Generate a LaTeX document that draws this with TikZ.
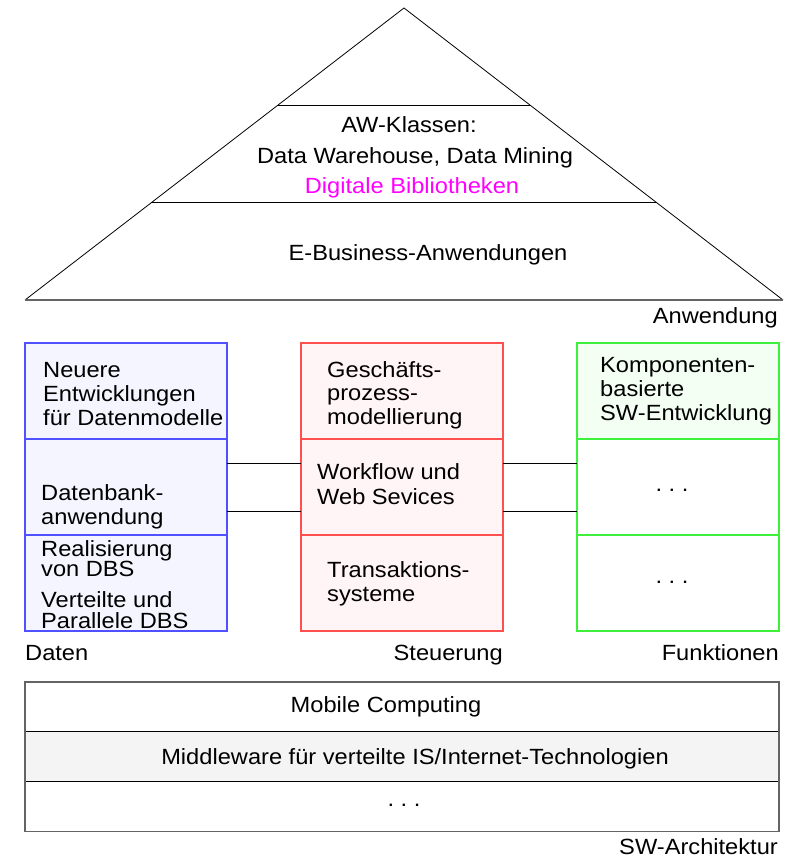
\documentclass[tikz,border=0pt]{standalone}
\usepackage{fontspec}
\setmainfont{Liberation Sans}[FakeStretch=1.075]
\usetikzlibrary{positioning,calc}
\definecolor{datenblau}{RGB}{80,80,255}
\definecolor{datenfill}{RGB}{245,245,255}
\definecolor{steuerrot}{RGB}{255,80,80}
\definecolor{steuerfill}{RGB}{255,244,246}
\definecolor{funktgruen}{RGB}{60,240,60}
\definecolor{funktfill}{RGB}{244,255,244}
\definecolor{archgrau}{RGB}{100,100,100}
\definecolor{archfill}{RGB}{244,244,244}
\definecolor{biblio}{RGB}{255,0,255}
\tikzset{
	ln/.style={font=\fontsize{22}{24}\selectfont, inner sep=0pt, anchor=base west},
	lnc/.style={ln, anchor=base},
	lnr/.style={ln, anchor=base east},
	feld/.style={line width=1.3pt, minimum width=202pt, minimum height=96pt, anchor=north west, inner sep=0pt, outer sep=0pt},
	schicht/.style={line width=1pt, minimum width=754pt, minimum height=49.7pt, anchor=north west, inner sep=0pt, outer sep=0pt}
}
\begin{document}
\begin{tikzpicture}[x=1pt,y=-1pt]
		\useasboundingbox (0,0) rectangle (792,858);
		% Pyramide
		\coordinate (spitze) at (404,8);
		\coordinate (links) at (25,300);
		\coordinate (rechts) at (783,300);
		\coordinate (o1) at ($(links)!2/3!(spitze)$);
		\coordinate (o2) at ($(rechts)!2/3!(spitze)$);
		\coordinate (m1) at ($(links)!1/3!(spitze)$);
		\coordinate (m2) at ($(rechts)!1/3!(spitze)$);
		
		\draw[line width=0.8pt] (links) -- (spitze) -- (rechts);
		\draw[line width=1.2pt, archgrau] (links) -- (rechts);
		\draw[line width=1pt] (o1) -- (o2);
		\draw[line width=1pt] (m1) -- (m2);
		
		\node[lnc] (aw1) at (409,133) {AW-Klassen:};
		\node[lnc] (aw2) at (415,164) {Data Warehouse, Data Mining};
		\node[lnc, text=biblio] (aw3) at (412,194) {Digitale Bibliotheken};
		\node[lnc] (ebiz) at (428,261) {E-Business-Anwendungen};
		\node[lnr] (anw) at (778,323) {Anwendung};
		
		% Daten
		\node[feld, draw=datenblau, fill=datenfill] (d1) at (25,343) {};
		\node[feld, draw=datenblau, fill=datenfill, below=0pt of d1] (d2) {};
		\node[feld, draw=datenblau, fill=datenfill, below=0pt of d2] (d3) {};
		% Steuerung
		\node[feld, draw=steuerrot, fill=steuerfill] (s1) at (301,343) {};
		\node[feld, draw=steuerrot, fill=steuerfill, below=0pt of s1] (s2) {};
		\node[feld, draw=steuerrot, fill=steuerfill, below=0pt of s2] (s3) {};
		% Funktionen
		\node[feld, draw=funktgruen, fill=funktfill] (f1) at (577,343) {};
		\node[feld, draw=funktgruen, fill=white, below=0pt of f1] (f2) {};
		\node[feld, draw=funktgruen, fill=white, below=0pt of f2] (f3) {};
		
		\draw[line width=0.8pt] ([yshift=24pt]d2.east) -- ([yshift=24pt]s2.west);
		\draw[line width=0.8pt] ([yshift=-24pt]d2.east) -- ([yshift=-24pt]s2.west);
		\draw[line width=0.8pt] ([yshift=24pt]s2.east) -- ([yshift=24pt]f2.west);
		\draw[line width=0.8pt] ([yshift=-24pt]s2.east) -- ([yshift=-24pt]f2.west);
		
		\foreach \t/\y [count=\i] in {Neuere/377,Entwicklungen/401,für Datenmodelle/425}
			\node[ln] (dA\i) at (43,\y) {\t};
		\foreach \t/\y [count=\i] in {Datenbank-/500,anwendung/524}
			\node[ln] (dB\i) at (41,\y) {\t};
		\foreach \t/\y [count=\i] in {Realisierung/556,von DBS/576,Verteilte und/607,Parallele DBS/628}
			\node[ln] (dC\i) at (41,\y) {\t};
		
		\foreach \t/\y [count=\i] in {Geschäfts-/377,prozess-/400,modellierung/424}
			\node[ln] (sA\i) at (327,\y) {\t};
		\foreach \t/\y [count=\i] in {Workflow und/479,Web Sevices/504}
			\node[ln] (sB\i) at (317,\y) {\t};
		\foreach \t/\y [count=\i] in {Transaktions-/577,systeme/601}
			\node[ln] (sC\i) at (327,\y) {\t};
		
		\foreach \t/\y [count=\i] in {Komponenten-/372,basierte/396,SW-Entwicklung/420}
			\node[ln] (fA\i) at (600,\y) {\t};
		\node[lnc] (fB) at (672,491) {.\ .\ .};
		\node[lnc] (fC) at (672,583) {.\ .\ .};
		
		\node[ln] (daten) at (25,660) {Daten};
		\node[lnr] (steuer) at (503,660) {Steuerung};
		\node[lnr] (funkt) at (779,660) {Funktionen};
		
		% SW-Architektur
		\node[schicht, draw=black] (a1) at (25,682) {};
		\node[schicht, draw=black, fill=archfill, below=0pt of a1] (a2) {};
		\node[schicht, draw=black, below=0pt of a2] (a3) {};
		\draw[archgrau, line width=1.2pt] (a1.north west) rectangle (a3.south east);
		
		\node[lnc] (mobil) at (386,712) {Mobile Computing};
		\node[lnc] (mw) at (415,764) {Middleware für verteilte IS/Internet-Technologien};
		\node[lnc] (rest) at (404,806) {.\ .\ .};
		\node[lnr] (arch) at (778,854) {SW-Architektur};
	\end{tikzpicture}
\end{document}
